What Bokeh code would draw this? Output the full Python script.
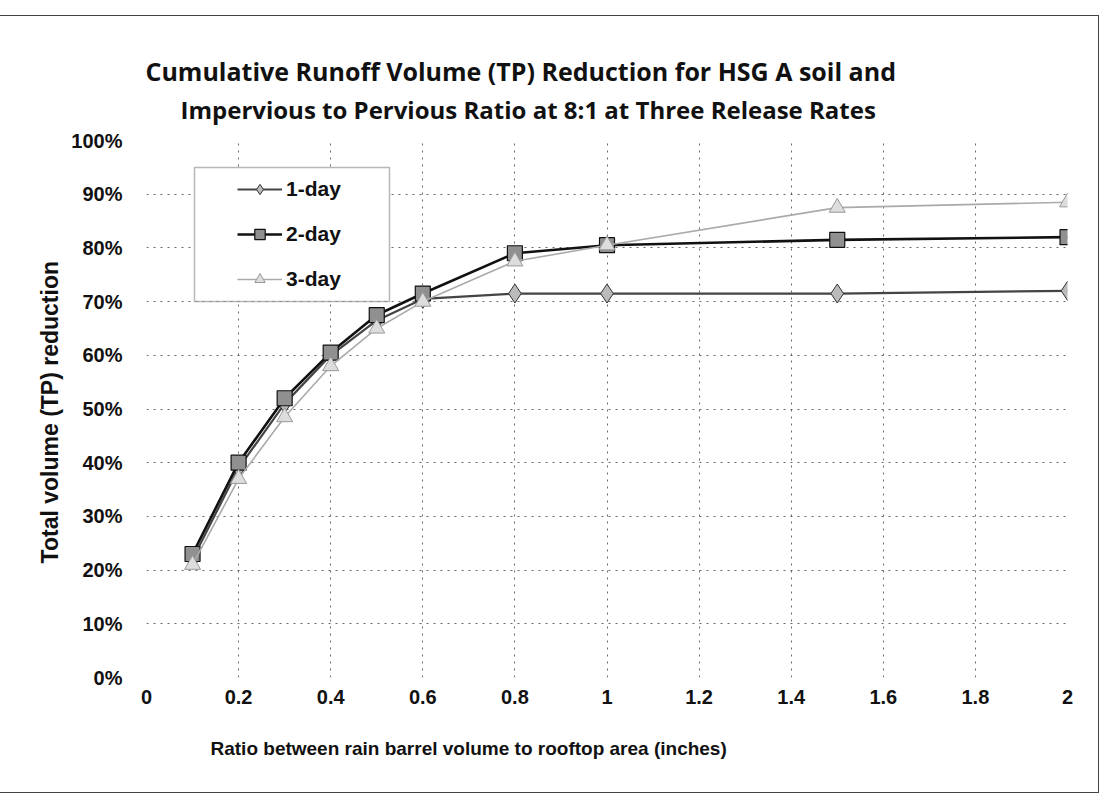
from bokeh.plotting import figure
from bokeh.models import FixedTicker, BoxAnnotation, Legend, LegendItem, Title, Column
from bokeh.embed import file_html
from bokeh.resources import INLINE

# ---- data ----
ratio = [0.1, 0.2, 0.3, 0.4, 0.5, 0.6, 0.8, 1.0, 1.5, 2.0]
one_day = [0.22, 0.39, 0.51, 0.60, 0.665, 0.705, 0.715, 0.715, 0.715, 0.72]
two_day = [0.23, 0.40, 0.52, 0.605, 0.675, 0.715, 0.79, 0.805, 0.815, 0.82]
three_day = [0.21, 0.37, 0.485, 0.58, 0.65, 0.70, 0.775, 0.805, 0.875, 0.885]
x_ticks = [0, 0.2, 0.4, 0.6, 0.8, 1.0, 1.2, 1.4, 1.6, 1.8, 2.0]
x_labels = ["0", "0.2", "0.4", "0.6", "0.8", "1", "1.2", "1.4", "1.6", "1.8", "2"]
y_ticks = [0, 0.1, 0.2, 0.3, 0.4, 0.5, 0.6, 0.7, 0.8, 0.9, 1.0]
y_labels = ["0%", "10%", "20%", "30%", "40%", "50%", "60%", "70%", "80%", "90%", "100%"]
title_lines = ["Cumulative Runoff Volume (TP) Reduction for HSG A soil  and",
               "Impervious to Pervious Ratio at 8:1 at Three Release Rates"]
x_title = "Ratio between rain barrel volume to rooftop area (inches)"
y_title = "Total volume (TP)  reduction"

W, H = 1100, 776
ML, MR, MT, MB = 148, 31, 124, 115

p = figure(width=W, height=H, x_range=(0, 2), y_range=(0, 1),
           output_backend="svg", toolbar_location=None,
           min_border_left=ML, min_border_right=MR,
           min_border_top=MT, min_border_bottom=MB)
p.outline_line_color = None
p.background_fill_color = "white"
p.border_fill_color = "white"

AX_FONT = "Liberation Sans"
TITLE_FONT = "Open Sans"
TXT = "#111111"

# axes
p.xaxis.ticker = FixedTicker(ticks=x_ticks)
p.xaxis.major_label_overrides = {t: l for t, l in zip(x_ticks, x_labels)}
p.yaxis.ticker = FixedTicker(ticks=y_ticks)
p.yaxis.major_label_overrides = {t: l for t, l in zip(y_ticks, y_labels)}
for ax in (p.xaxis[0], p.yaxis[0]):
    ax.axis_line_color = None
    ax.major_tick_line_color = None
    ax.minor_tick_line_color = None
    ax.major_label_text_font = AX_FONT
    ax.major_label_text_font_style = "bold"
    ax.major_label_text_font_size = "20px"
    ax.major_label_text_color = TXT
p.xaxis.major_label_standoff = 6
p.yaxis.major_label_standoff = 18
p.yaxis.axis_label = y_title
p.yaxis.axis_label_text_font = AX_FONT
p.yaxis.axis_label_text_font_style = "bold"
p.yaxis.axis_label_text_font_size = "23px"
p.yaxis.axis_label_text_color = TXT
p.yaxis.axis_label_standoff = 5

# grid
p.xgrid.ticker = FixedTicker(ticks=x_ticks[1:])
p.ygrid.ticker = FixedTicker(ticks=y_ticks)
for g in (p.xgrid[0], p.ygrid[0]):
    g.grid_line_color = "#444444"
    g.grid_line_dash = "2 5"
    g.grid_line_width = 1
    g.grid_line_alpha = 0.8

# legend box
p.add_layout(BoxAnnotation(left=0.1042, right=0.5277, bottom=0.7002, top=0.9497,
                           fill_color="white", fill_alpha=1,
                           line_color="#111111", line_width=1.5, level="glyph"))

# series
r1l = p.line(ratio, one_day, line_color="#444444", line_width=2.2)
r1m = p.scatter(ratio, one_day, marker="diamond", size=19, fill_color="#bbbbbb",
                line_color="#333333", line_width=1)
r2l = p.line(ratio, two_day, line_color="#111111", line_width=2.6)
r2m = p.scatter(ratio, two_day, marker="square", size=15, fill_color="#909090",
                line_color="#111111", line_width=1.2)
r3l = p.line(ratio, three_day, line_color="#aaaaaa", line_width=1.6)
r3m = p.scatter(ratio, three_day, marker="triangle", size=16, fill_color="#dddddd",
                line_color="#999999", line_width=1)

legend = Legend(items=[LegendItem(label="1-day", renderers=[r1l, r1m]),
                       LegendItem(label="2-day", renderers=[r2l, r2m]),
                       LegendItem(label="3-day", renderers=[r3l, r3m])],
                location=(86, 380), orientation="vertical",
                border_line_alpha=0, background_fill_alpha=0,
                padding=5, spacing=19, label_height=26, glyph_height=26,
                glyph_width=45, label_standoff=4,
                label_text_font=AX_FONT, label_text_font_style="bold",
                label_text_font_size="21px", label_text_color=TXT)
p.add_layout(legend)

# titles (line 2 added first: it sits closest to the plot)
p.add_layout(Title(text=title_lines[1], align="left", offset=34, standoff=30,
                   text_font=TITLE_FONT, text_font_style="bold", text_font_size="24px",
                   text_color=TXT), "above")
p.add_layout(Title(text=title_lines[0], align="left", offset=-1, standoff=-25,
                   text_font=TITLE_FONT, text_font_style="bold", text_font_size="25px",
                   text_color=TXT), "above")
p.add_layout(Title(text=x_title, align="left", offset=64, standoff=58,
                   text_font=AX_FONT, text_font_style="bold", text_font_size="19px",
                   text_color=TXT), "below")

layout = Column(children=[p], margin=(15, 0, 0, -3),
                styles={"border": "1px solid #444444"})

open("out.html", "w").write(file_html(layout, INLINE))
